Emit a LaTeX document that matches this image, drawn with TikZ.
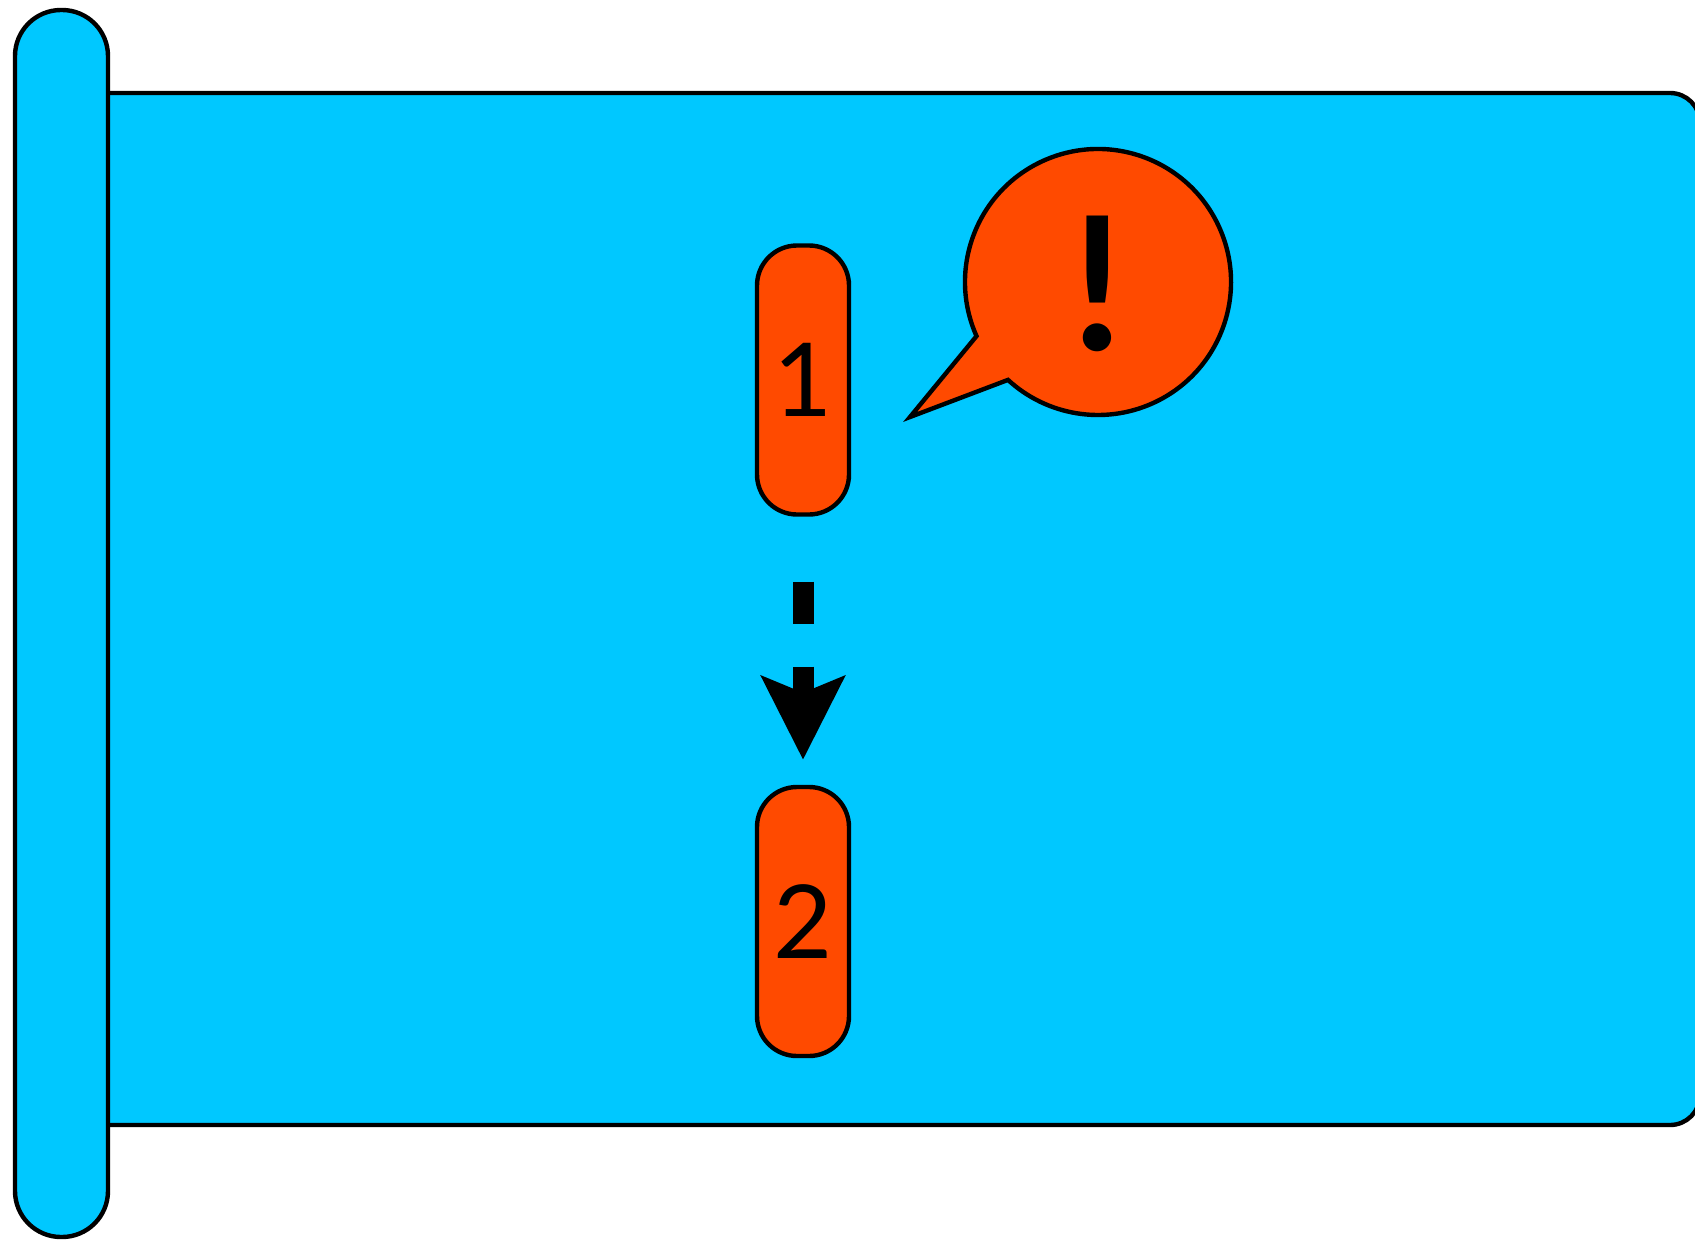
\documentclass[tikz,border=0pt]{standalone}
\usepackage{fontspec}
\setmainfont{Lato}
\usetikzlibrary{arrows.meta}
\definecolor{skyfill}{RGB}{0,200,255}
\definecolor{redfill}{RGB}{255,74,0}
\tikzset{
  outline/.style={draw=black, line width=2.2pt},
  stepbox/.style={outline, fill=redfill, rectangle, rounded corners=20pt,
    minimum width=46pt, minimum height=134.5pt, inner sep=0pt,
    font=\fontsize{51}{51}\selectfont},
  flow/.style={line width=10.5pt, dash pattern=on 21pt off 21.5pt,
    -{Stealth[length=41.5pt, width=41pt, inset=8pt]}},
}
\begin{document}
\begin{tikzpicture}[x=0.5pt, y=0.5pt]
  \useasboundingbox (0,0) rectangle (1695,-1241);
  \clip (0,0) rectangle (1695,-1241);
  % banner
  \draw[outline, fill=skyfill, rounded corners=15pt] (40,-93) rectangle (1700,-1125);
  % pillar
  \draw[outline, fill=skyfill, rounded corners=23pt] (15,-10) rectangle (108,-1237);
  % steps
  \node[stepbox] (n1) at (803,-380) {1};
  \node[stepbox] (n2) at (803,-921.5) {2};
  \draw[flow, shorten <=32.5pt, shorten >=12.5pt] (n1) -- (n2);
  % callout
  \coordinate (cc) at (1098,-282);
  \coordinate (tip) at (910,-417);
  \draw[outline, fill=redfill, line join=miter]
    (tip) -- ([shift={(cc)}]204:133) arc[start angle=204, end angle=-132.6, radius=133] -- cycle;
  \node[inner sep=0pt, font=\bfseries\fontsize{93}{93}\selectfont] (excl) at (1098,-284) {!};
\end{tikzpicture}
\end{document}
